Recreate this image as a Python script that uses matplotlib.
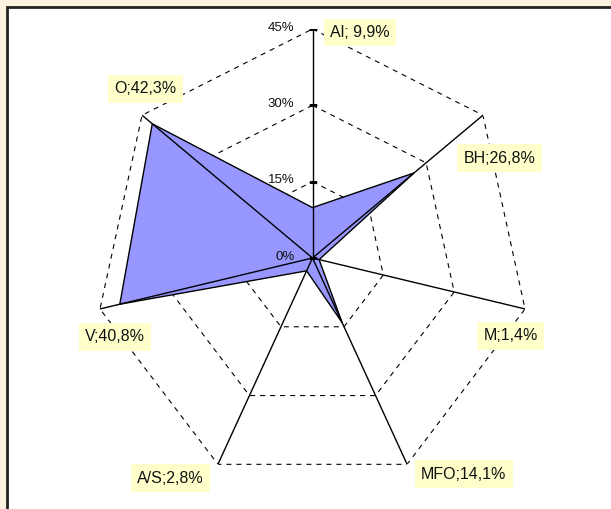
import numpy as np
import matplotlib
matplotlib.use("Agg")
import matplotlib.pyplot as plt
from matplotlib.patches import Rectangle

plt.rcParams['font.family'] = ['Liberation Sans', 'DejaVu Sans']

# ---- data ----
categories = ['Al', 'BH', 'M', 'MFO', 'A/S', 'V', 'O']
values = [9.9, 26.8, 1.4, 14.1, 2.8, 40.8, 42.3]
label_texts = ['Al; 9,9%', 'BH;26,8%', 'M;1,4%', 'MFO;14,1%', 'A/S;2,8%', 'V;40,8%', 'O;42,3%']
levels = [0, 15, 30, 45]
level_labels = ['0%', '15%', '30%', '45%']
rmax = 45

# label offsets from the outer vertex (pixels: right, up)
label_offsets_px = [(47.5, -3.5), (16.5, -43), (-14.5, -27), (56.5, -10),
                    (-47.5, -14), (15, -28), (3.5, 26.5)]

W, H = 611, 509
fig = plt.figure(figsize=(W / 100, H / 100), dpi=100, facecolor='#FDF1DF')

# white frame with dark border
frame = Rectangle((6.5 / W, -0.2), 1.5, 1.2 - 6.5 / H, transform=fig.transFigure,
                  facecolor='white', edgecolor='#222222', lw=2.0, zorder=-5)
fig.patches.append(frame)

# polar axes (slightly elliptical as in the reference)
cx, cy = 312.5, 258
rx, ry = 218, 229
ax = fig.add_axes([(cx - rx) / W, (H - cy - ry) / H, 2 * rx / W, 2 * ry / H], projection='polar')
ax.set_zorder(2)
ax.set_aspect('auto')
ax.set_theta_zero_location('N')
ax.set_theta_direction(-1)
ax.set_ylim(0, rmax)
ax.set_axis_off()

n = len(categories)
theta = np.arange(n) * 2 * np.pi / n
theta_c = np.append(theta, theta[0])

# dashed polygon gridlines
for lvl in levels[1:]:
    ax.plot(theta_c, [lvl] * (n + 1), color='black', lw=0.8, ls=(0, (4.5, 4.5)), zorder=1)

# data polygon
vals_c = np.append(values, values[0])
ax.fill(theta_c, vals_c, facecolor='#9797FF', edgecolor='black', lw=1.0, zorder=2)

# spokes
for t in theta:
    ax.plot([t, t], [0, rmax], color='black', lw=1.0, zorder=3)

# tick marks and labels on the first axis
ax.plot([0] * len(levels), levels, ls='none', marker='_', ms=6, mew=0.9, color='black', zorder=4)
for lvl, lab in zip(levels, level_labels):
    ax.annotate(lab, xy=(0, lvl), xytext=(-18 * 0.72, 1), textcoords='offset points',
                ha='right', va='center', fontsize=9.5, color='#111111', zorder=5)

# category labels
for t, txt, (dx, dy) in zip(theta, label_texts, label_offsets_px):
    ax.annotate(txt, xy=(t, rmax), xytext=(dx * 0.72, dy * 0.72), textcoords='offset points',
                ha='center', va='center', fontsize=11.5, color='#111111', zorder=6,
                annotation_clip=False,
                bbox=dict(boxstyle='square,pad=0.4', facecolor='#FFFFCC', edgecolor='none'))

fig.savefig('out.png', dpi=100, facecolor=fig.get_facecolor())
